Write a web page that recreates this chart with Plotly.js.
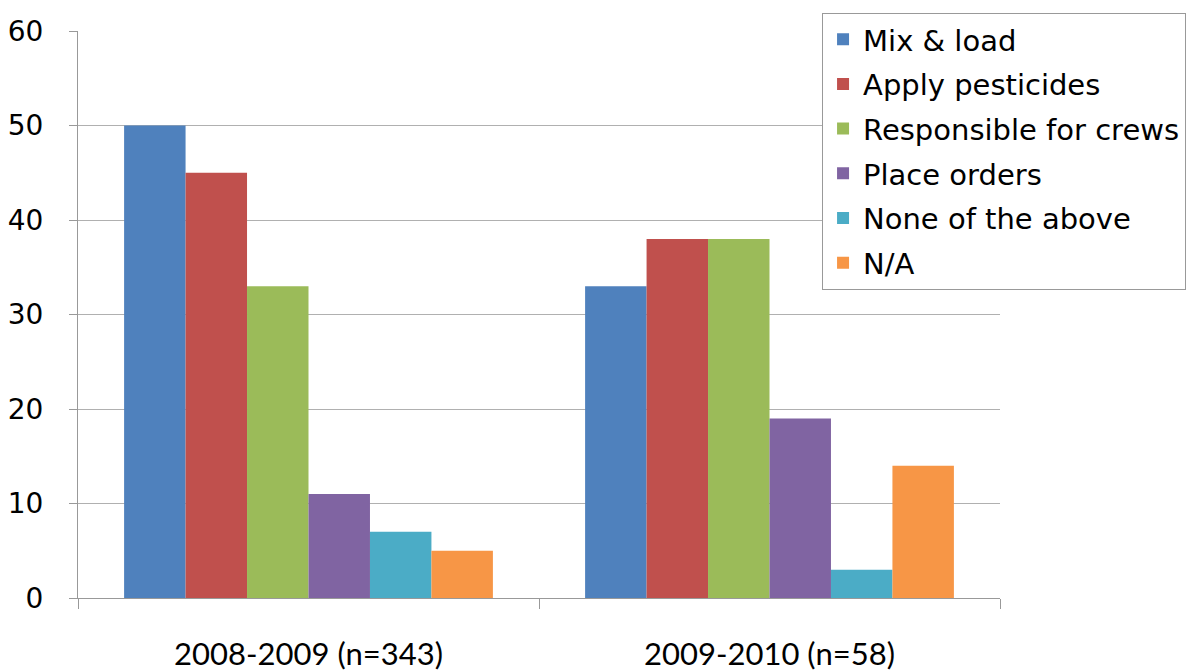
<!DOCTYPE html>
<html>
<head>
<meta charset="utf-8">
<script src="https://cdn.plot.ly/plotly-3.0.1.min.js"></script>
<style>html,body{margin:0;padding:0;background:#fff;}#chart{width:1200px;height:671px;}</style>
</head>
<body>
<div id="chart"></div>
<script>
const categories = ["2008-2009 (n=343)", "2009-2010 (n=58)"];
const seriesNames = ["Mix & load", "Apply pesticides", "Responsible for crews", "Place orders", "None of the above", "N/A"];
const mixLoad = [50, 33];
const applyPesticides = [45, 38];
const responsibleCrews = [33, 38];
const placeOrders = [11, 19];
const noneAbove = [7, 3];
const notApplicable = [5, 14];
const yTicks = [0, 10, 20, 30, 40, 50, 60];
const colors = ["#4F81BD", "#C0504D", "#9BBB59", "#8064A2", "#4BACC6", "#F79646"];

const allSeries = [mixLoad, applyPesticides, responsibleCrews, placeOrders, noneAbove, notApplicable];
const traces = allSeries.map((vals, i) => ({
  type: "bar",
  name: seriesNames[i],
  x: categories,
  y: vals,
  legendgroup: "g" + i,
  marker: {color: colors[i], line: {width: 0}},
  hoverinfo: "x+y+name"
}));

const layout = {
  width: 1200, height: 671,
  margin: {l: 78, r: 200, t: 31, b: 73},
  paper_bgcolor: "#fff", plot_bgcolor: "#fff",
  barmode: "group",
  bargap: 0.2, bargroupgap: 0,
  showlegend: true,
  legend: {
    x: 0.807, y: 1.032, xanchor: "left", yanchor: "top",
    bgcolor: "#fff", bordercolor: "#999", borderwidth: 1,
    font: {family: "DejaVu Sans, Verdana, sans-serif", size: 29, color: "#000"},
    traceorder: "grouped", tracegroupgap: 4,
    itemwidth: 30
  },
  xaxis: {
    type: "category",
    showline: true, linecolor: "#999", linewidth: 1,
    ticks: "outside", tickson: "boundaries", ticklen: 10, tickcolor: "#999",
    showgrid: false,
    tickfont: {family: "Lato, Open Sans, sans-serif", size: 31, color: "#000"},
    ticklabelstandoff: 29
  },
  yaxis: {
    range: [0, 60],
    tickvals: yTicks,
    ticktext: yTicks.map(String),
    showline: true, linecolor: "#999", linewidth: 1,
    ticks: "outside", ticklen: 8, tickcolor: "#999",
    showgrid: true, gridcolor: "#b0b0b0", gridwidth: 1,
    zeroline: false,
    tickfont: {family: "DejaVu Sans, Verdana, sans-serif", size: 28, color: "#000"},
    ticklabelstandoff: 20
  }
};

Plotly.newPlot("chart", traces, layout, {displayModeBar: false, staticPlot: true});
</script>
</body>
</html>
